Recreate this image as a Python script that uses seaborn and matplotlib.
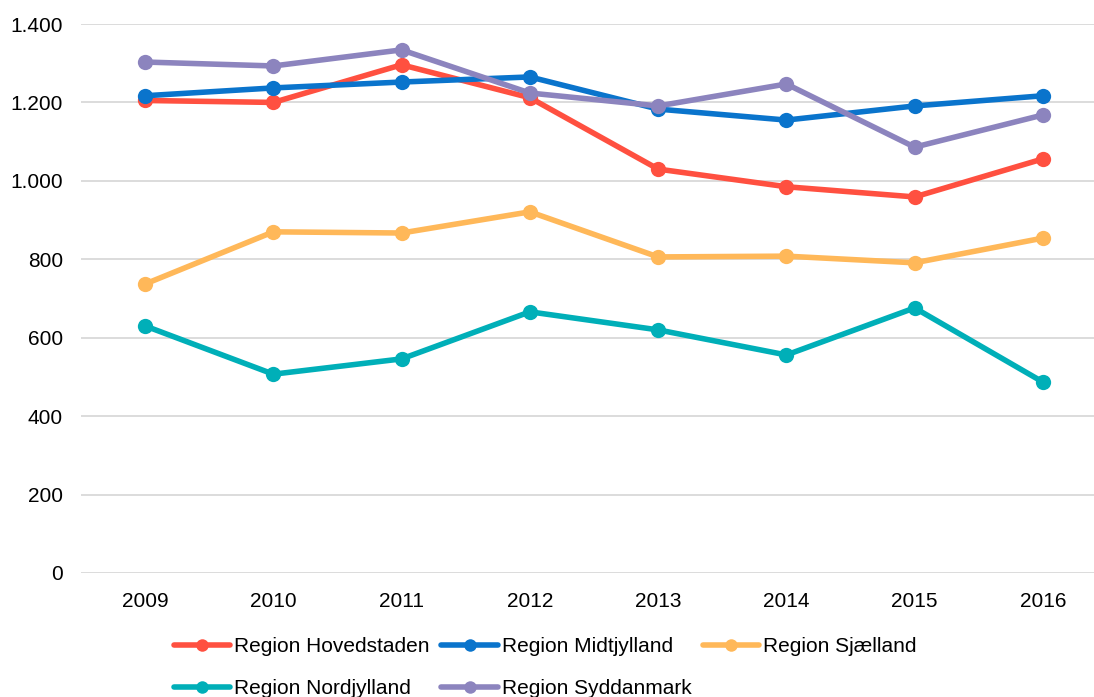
import pandas as pd
import matplotlib.pyplot as plt
import seaborn as sns
from matplotlib.ticker import FuncFormatter

years = [2009, 2010, 2011, 2012, 2013, 2014, 2015, 2016]
hovedstaden = [1205, 1200, 1296, 1212, 1030, 985, 959, 1056]
midtjylland = [1217, 1237, 1252, 1265, 1183, 1155, 1191, 1217]
sjaelland = [737, 870, 867, 921, 806, 808, 791, 854]
nordjylland = [630, 507, 546, 666, 620, 556, 676, 487]
syddanmark = [1303, 1293, 1334, 1224, 1191, 1247, 1086, 1168]

regions = ["Region Hovedstaden", "Region Midtjylland", "Region Sjælland",
           "Region Nordjylland", "Region Syddanmark"]
colors = ["#FF5040", "#0A74CC", "#FFB859", "#00AFB8", "#8C84BE"]

series = [hovedstaden, midtjylland, sjaelland, nordjylland, syddanmark]
rows = []
for name, vals in zip(regions, series):
    for yr, v in zip(years, vals):
        rows.append({"year": yr, "value": v, "region": name})
df = pd.DataFrame(rows)

sns.set_style("white")
plt.rcParams["font.family"] = ["Liberation Sans", "DejaVu Sans"]

fig = plt.figure(figsize=(10.94, 6.97), dpi=100)
ax = fig.add_axes([81 / 1094, 124 / 697, 1026 / 1094, 549 / 697])

sns.lineplot(data=df, x="year", y="value", hue="region", hue_order=regions,
             palette=colors, marker="o", markersize=11, markeredgewidth=0,
             linewidth=4, ax=ax, legend=True)

ax.set_xlim(2008.5, 2016.5)
ax.set_ylim(0, 1400)
ax.set_xticks(years)
ax.set_yticks(range(0, 1401, 200))
ax.yaxis.set_major_formatter(FuncFormatter(lambda v, p: f"{int(v):,}".replace(",", ".")))
ax.grid(axis="y", color="#D9D9D9", linewidth=1.3)
ax.set_axisbelow(True)
for s in ax.spines.values():
    s.set_visible(False)
ax.tick_params(length=0, labelsize=15, colors="#000000")
ax.tick_params(axis="x", pad=14)
ax.tick_params(axis="y", pad=13)
ax.set_xlabel("")
ax.set_ylabel("")

# row-wise legend order: matplotlib fills columns first
handles, labels = ax.get_legend_handles_labels()
ax.get_legend().remove()
order = [0, 3, 1, 4, 2]
for h in handles:
    h.set_markersize(9)
fig.legend([handles[i] for i in order], [labels[i] for i in order],
           loc="upper left", bbox_to_anchor=(174 / 1094, 1 - 637 / 697),
           ncol=3, frameon=False, fontsize=15, handlelength=2.7, handletextpad=0.2,
           columnspacing=0.55, labelspacing=1.1, borderaxespad=0, borderpad=0,
           labelcolor="black")

fig.savefig("out.png", dpi=100)
